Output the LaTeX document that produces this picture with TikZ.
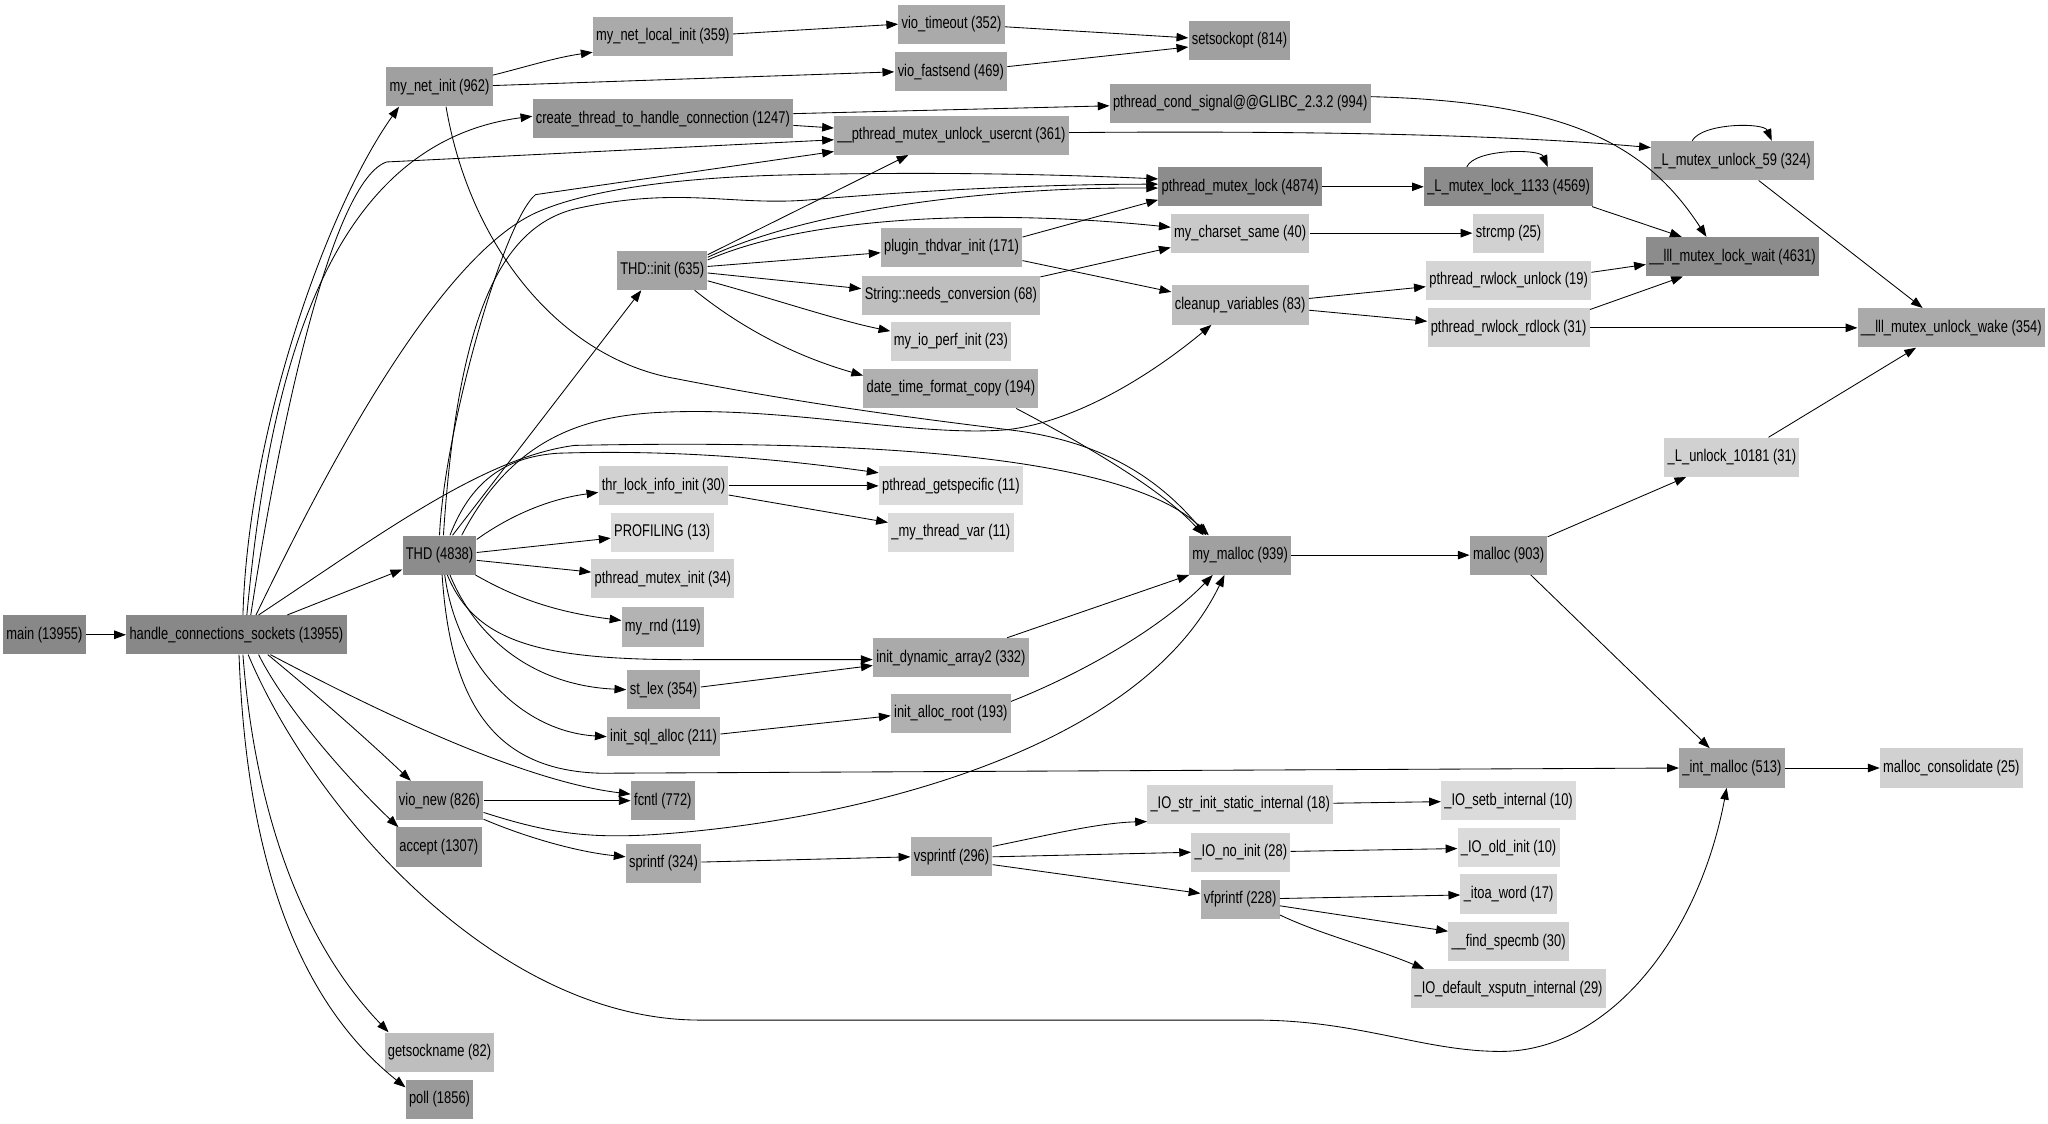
\documentclass[tikz,border=0pt]{standalone}
\usepackage{fontspec}
\setmainfont{Liberation Sans}[FakeStretch=0.76]
\usetikzlibrary{arrows.meta}
\definecolor{k88}{HTML}{888888}
\definecolor{k8c}{HTML}{8C8C8C}
\definecolor{k99}{HTML}{999999}
\definecolor{ka0}{HTML}{A0A0A0}
\definecolor{ka4}{HTML}{A4A4A4}
\definecolor{ka7}{HTML}{A7A7A7}
\definecolor{kaa}{HTML}{AAAAAA}
\definecolor{kb0}{HTML}{B0B0B0}
\definecolor{kb3}{HTML}{B3B3B3}
\definecolor{kbe}{HTML}{BEBEBE}
\definecolor{kc9}{HTML}{C9C9C9}
\definecolor{kd1}{HTML}{D1D1D1}
\definecolor{kd5}{HTML}{D5D5D5}
\definecolor{kdb}{HTML}{DBDBDB}
\tikzset{
  fn/.style={rectangle, fill=#1, draw=none, minimum height=30pt, inner xsep=2.5pt, inner ysep=0pt, font=\fontsize{13}{15}\selectfont, text=black},
  cedge/.style={-{Triangle[length=9pt,width=6.5pt]}, line width=0.65pt, black},
}
\begin{document}
\begin{tikzpicture}[x=1pt,y=-1pt]
\useasboundingbox[fill=white] (0,0) rectangle (1568,860);
% ---- nodes ----
\node[fn=k88] (main) at (34,486) {main (13955)};
\node[fn=k88] (hcs) at (181,486) {handle\_connections\_sockets (13955)};
\node[fn=ka0] (mynetinit) at (336.5,66.5) {my\_net\_init (962)};
\node[fn=kaa] (mynetlocal) at (507.5,28) {my\_net\_local\_init (359)};
\node[fn=kaa] (viotimeout) at (728.5,18.5) {vio\_timeout (352)};
\node[fn=ka7] (viofastsend) at (728,55) {vio\_fastsend (469)};
\node[fn=ka0] (setsockopt) at (949,31) {setsockopt (814)};
\node[fn=k99] (createthread) at (507.5,91) {create\_thread\_to\_handle\_connection (1247)};
\node[fn=ka0] (condsignal) at (949.5,79) {pthread\_cond\_signal@@GLIBC\_2.3.2 (994)};
\node[fn=kaa] (unlock) at (728.5,103.5) {\_\_pthread\_mutex\_unlock\_usercnt (361)};
\node[fn=kaa] (lm59) at (1326.5,123) {\_L\_mutex\_unlock\_59 (324)};
\node[fn=k8c] (lock) at (949.5,143) {pthread\_mutex\_lock (4874)};
\node[fn=k8c] (lml1133) at (1155,143) {\_L\_mutex\_lock\_1133 (4569)};
\node[fn=kc9] (charsetsame) at (949.5,178.5) {my\_charset\_same (40)};
\node[fn=kd1] (strcmp) at (1155,178.5) {strcmp (25)};
\node[fn=ka4] (thdinit) at (507,207) {THD::init (635)};
\node[fn=kb0] (pluginthdvar) at (728.5,189.5) {plugin\_thdvar\_init (171)};
\node[fn=kbe] (needsconv) at (728,226) {String::needs\_conversion (68)};
\node[fn=k8c] (lllwait) at (1326.5,196.5) {\_\_lll\_mutex\_lock\_wait (4631)};
\node[fn=kbe] (cleanupvars) at (949.5,233.5) {cleanup\_variables (83)};
\node[fn=kd5] (rwunlock) at (1155,214.5) {pthread\_rwlock\_unlock (19)};
\node[fn=kd1] (rwrdlock) at (1155,251) {pthread\_rwlock\_rdlock (31)};
\node[fn=kaa] (lllunlockwake) at (1494,251) {\_\_lll\_mutex\_unlock\_wake (354)};
\node[fn=kd1] (myioperf) at (728,261.5) {my\_io\_perf\_init (23)};
\node[fn=kb0] (datetime) at (728,297.5) {date\_time\_format\_copy (194)};
\node[fn=kd1] (lunlock) at (1326,350) {\_L\_unlock\_10181 (31)};
\node[fn=kd1] (thrlockinfo) at (508,372) {thr\_lock\_info\_init (30)};
\node[fn=kdb] (getspecific) at (728,372) {pthread\_getspecific (11)};
\node[fn=kdb] (mythreadvar) at (728,407.5) {\_my\_thread\_var (11)};
\node[fn=kdb] (profiling) at (507,407.5) {PROFILING (13)};
\node[fn=k8c] (thd) at (336.5,425) {THD (4838)};
\node[fn=ka0] (mymalloc) at (949.5,425) {my\_malloc (939)};
\node[fn=ka0] (malloc) at (1155,425) {malloc (903)};
\node[fn=kd1] (mutexinit) at (507.5,443) {pthread\_mutex\_init (34)};
\node[fn=kb3] (myrnd) at (507.5,480) {my\_rnd (119)};
\node[fn=kaa] (initdynarr) at (728,503.5) {init\_dynamic\_array2 (332)};
\node[fn=kaa] (stlex) at (508,528) {st\_lex (354)};
\node[fn=kb0] (initallocroot) at (728,546) {init\_alloc\_root (193)};
\node[fn=kb0] (initsqlalloc) at (508,564) {init\_sql\_alloc (211)};
\node[fn=ka4] (intmalloc) at (1326,588) {\_int\_malloc (513)};
\node[fn=kd1] (mallocconsol) at (1494,588) {malloc\_consolidate (25)};
\node[fn=ka0] (vionew) at (336.5,613) {vio\_new (826)};
\node[fn=ka0] (fcntl) at (507.5,613) {fcntl (772)};
\node[fn=kd5] (iostrinit) at (949.5,616) {\_IO\_str\_init\_static\_internal (18)};
\node[fn=kdb] (iosetb) at (1155,613) {\_IO\_setb\_internal (10)};
\node[fn=k99] (accept) at (336,648.5) {accept (1307)};
\node[fn=kd1] (ionoinit) at (950,652.5) {\_IO\_no\_init (28)};
\node[fn=kdb] (iooldinit) at (1155,649) {\_IO\_old\_init (10)};
\node[fn=kaa] (sprintf) at (508,661) {sprintf (324)};
\node[fn=kb0] (vsprintf) at (728.5,656) {vsprintf (296)};
\node[fn=kb0] (vfprintf) at (949.5,688.5) {vfprintf (228)};
\node[fn=kd5] (itoaword) at (1155,684.5) {\_itoa\_word (17)};
\node[fn=kd1] (findspecmb) at (1155,721) {\_\_find\_specmb (30)};
\node[fn=kd1] (iodefault) at (1155,757) {\_IO\_default\_xsputn\_internal (29)};
\node[fn=kbe] (getsockname) at (336.5,805.5) {getsockname (82)};
\node[fn=k99] (poll) at (336.5,841.5) {poll (1856)};
% ---- edges ----
\draw[cedge] (main) -- (hcs);
% handle_connections_sockets
\draw[cedge] ([xshift=5pt]hcs.north) .. controls (190,330) and (250,160) .. ([xshift=-31pt]mynetinit.south);
\draw[cedge] ([xshift=8pt]hcs.north) .. controls (205,300) and (245,110) .. ([shift={(0,-2)}]createthread.west);
\draw[cedge] ([xshift=11pt]hcs.north) .. controls (215,320) and (255,138) .. (296,124) -- ([shift={(0,3.5)}]unlock.west);
\draw[cedge] ([xshift=15pt]hcs.north) .. controls (240,380) and (330,200) .. (410,163) .. controls (450,145) and (520,136) .. (600,134) .. controls (720,131) and (820,134) .. ([shift={(0,-6)}]lock.west);
\draw[cedge] ([xshift=39pt]hcs.north) -- ([shift={(0,11)}]thd.west);
\draw[cedge] ([xshift=17pt]hcs.north) .. controls (290,410) and (370,350) .. (440,341) .. controls (640,337) and (860,345) .. ([xshift=-24pt]mymalloc.north);
\draw[cedge] ([xshift=24pt]hcs.south) .. controls (240,530) and (280,565) .. ([xshift=-22pt]vionew.north);
\draw[cedge] ([xshift=17pt]hcs.south) .. controls (220,545) and (270,600) .. ([xshift=-31pt]accept.north);
\draw[cedge] ([xshift=26pt]hcs.south) .. controls (290,545) and (400,598) .. ([shift={(0,-5)}]fcntl.west);
\draw[cedge] ([xshift=9pt]hcs.south) .. controls (240,620) and (380,781) .. (536,781) -- (961,781) .. controls (1040,781) and (1090,805) .. (1149,805) .. controls (1230,805) and (1300,720) .. ([xshift=-4pt]intmalloc.south);
\draw[cedge] ([xshift=5pt]hcs.south) .. controls (195,620) and (230,720) .. ([xshift=-39pt]getsockname.north);
\draw[cedge] ([xshift=2pt]hcs.south) .. controls (188,640) and (220,760) .. ([shift={(0,-9)}]poll.west);
% THD
\draw[cedge] ([xshift=10pt]thd.north) -- ([xshift=-16pt]thdinit.south);
\draw[cedge] (thd.north) .. controls (340,330) and (385,170) .. (410,149) -- ([shift={(0,12.5)}]unlock.west);
\draw[cedge] ([xshift=3pt]thd.north) .. controls (350,250) and (380,175) .. (440,160) .. controls (520,142) and (560,158) .. (620,153) .. controls (700,146) and (800,141) .. ([shift={(0,-2)}]lock.west);
\draw[cedge] ([xshift=17pt]thd.north) .. controls (390,340) and (440,320) .. (500,316) .. controls (600,310) and (700,335) .. (771,329) .. controls (830,322) and (890,280) .. ([xshift=-22pt]cleanupvars.south);
\draw[cedge] ([xshift=8pt]thd.north) .. controls (360,370) and (385,350) .. (427,347) .. controls (520,344) and (600,352) .. ([shift={(0,-10)}]getspecific.west);
\draw[cedge] ([shift={(0,-12)}]thd.east) .. controls (390,395) and (420,382) .. ([shift={(0,5)}]thrlockinfo.west);
\draw[cedge] ([shift={(0,-2)}]thd.east) -- ([shift={(0,4.5)}]profiling.west);
\draw[cedge] ([shift={(0,4)}]thd.east) -- ([shift={(0,-5)}]mutexinit.west);
\draw[cedge] ([xshift=-1pt]thd.south east) .. controls (390,455) and (420,468) .. ([shift={(0,-5)}]myrnd.west);
\draw[cedge] ([xshift=6pt]thd.south) .. controls (365,495) and (420,506) .. (540,505) -- ([shift={(0,1.5)}]initdynarr.west);
\draw[cedge] ([xshift=8pt]thd.south) .. controls (365,490) and (410,525) .. (stlex.west);
\draw[cedge] ([xshift=4pt]thd.south) .. controls (350,510) and (400,560) .. (initsqlalloc.west);
\draw[cedge] ([xshift=2pt]thd.south) .. controls (345,540) and (380,590) .. (460,592) -- (intmalloc.west);
% THD::init
\draw[cedge] ([shift={(0,-12)}]thdinit.east) -- ([xshift=-33pt]unlock.south);
\draw[cedge] ([shift={(0,-10)}]thdinit.east) .. controls (620,160) and (760,143) .. ([shift={(0,1)}]lock.west);
\draw[cedge] ([shift={(0,-8)}]thdinit.east) .. controls (620,165) and (760,160) .. ([shift={(0,-4.5)}]charsetsame.west);
\draw[cedge] ([shift={(0,-3)}]thdinit.east) -- ([shift={(0,4)}]pluginthdvar.west);
\draw[cedge] ([shift={(0,2)}]thdinit.east) -- ([shift={(0,-5)}]needsconv.west);
\draw[cedge] ([shift={(0,8)}]thdinit.east) .. controls (590,228) and (640,245) .. ([shift={(0,-8)}]myioperf.west);
\draw[cedge] ([xshift=-10pt]thdinit.south east) .. controls (560,245) and (600,270) .. ([shift={(0,-10)}]datetime.west);
% middle
\draw[cedge] ([shift={(0,-8)}]pluginthdvar.east) -- ([shift={(0,10)}]lock.west);
\draw[cedge] ([shift={(0,10)}]pluginthdvar.east) -- ([shift={(0,-10)}]cleanupvars.west);
\draw[cedge] ([shift={(0,-14)}]needsconv.east) -- ([shift={(0,11)}]charsetsame.west);
\draw[cedge] (charsetsame) -- (strcmp);
\draw[cedge] ([shift={(0,-5)}]cleanupvars.east) -- ([shift={(0,5)}]rwunlock.west);
\draw[cedge] ([shift={(0,4)}]cleanupvars.east) -- ([shift={(0,-5)}]rwrdlock.west);
\draw[cedge] ([shift={(0,-6)}]rwunlock.east) -- ([shift={(0,6)}]lllwait.west);
\draw[cedge] ([shift={(0,-14)}]rwrdlock.east) -- ([xshift=-38pt]lllwait.south);
\draw[cedge] (rwrdlock) -- (lllunlockwake);
\draw[cedge] (lock) -- (lml1133);
\draw[cedge] ([xshift=-32pt]lml1133.north) .. controls +(6,-14) and +(-6,-14) .. ([xshift=30pt]lml1133.north);
\draw[cedge] ([xshift=-1pt]lml1133.south east) -- ([xshift=-39pt]lllwait.north);
\draw[cedge] ([shift={(0,-5)}]condsignal.east) .. controls (1200,78) and (1260,110) .. ([xshift=-20pt]lllwait.north);
\draw[cedge] ([shift={(0,-2)}]unlock.east) .. controls (1000,100) and (1150,103) .. ([shift={(0,-10)}]lm59.west);
\draw[cedge] ([xshift=-31pt]lm59.north) .. controls +(8,-14) and +(-6,-14) .. ([xshift=30pt]lm59.north);
\draw[cedge] ([xshift=20pt]lm59.south) -- ([xshift=-22pt]lllunlockwake.north);
\draw[cedge] ([xshift=28pt]lunlock.north) -- ([xshift=-27pt]lllunlockwake.south);
\draw[cedge] ([shift={(0,-14)}]malloc.east) -- ([xshift=-35pt]lunlock.south);
\draw[cedge] ([xshift=17pt]malloc.south) -- ([xshift=-17pt]intmalloc.north);
\draw[cedge] (mymalloc) -- (malloc);
\draw[cedge] (intmalloc) -- (mallocconsol);
% into my_malloc
\draw[cedge] ([xshift=43pt]initdynarr.north) -- ([xshift=-39pt]mymalloc.south);
\draw[cedge] ([shift={(0,-9)}]initallocroot.east) .. controls (830,515) and (890,480) .. ([xshift=-21pt]mymalloc.south);
\draw[cedge] ([shift={(0,9)}]vionew.east) .. controls (420,638) and (450,642) .. (500,639) .. controls (640,630) and (870,580) .. ([xshift=-12pt]mymalloc.south);
\draw[cedge] ([xshift=50pt]datetime.south) .. controls (830,340) and (890,375) .. ([xshift=-28pt]mymalloc.north);
\draw[cedge] ([xshift=5pt]mynetinit.south) .. controls (360,190) and (430,275) .. (518,290) .. controls (620,310) and (700,320) .. (780,330) .. controls (850,340) and (890,370) .. ([xshift=-26pt]mymalloc.north);
% left-middle
\draw[cedge] (thrlockinfo) -- (getspecific);
\draw[cedge] ([shift={(0,7)}]thrlockinfo.east) -- ([shift={(0,-7.5)}]mythreadvar.west);
\draw[cedge] ([shift={(0,-2)}]stlex.east) -- ([shift={(0,6)}]initdynarr.west);
\draw[cedge] ([shift={(0,-2)}]initsqlalloc.east) -- ([shift={(0,2)}]initallocroot.west);
% top
\draw[cedge] ([shift={(0,-9)}]mynetinit.east) .. controls (400,52) and (425,44) .. ([shift={(0,12)}]mynetlocal.west);
\draw[cedge] ([shift={(0,-1)}]mynetinit.east) -- (viofastsend.west);
\draw[cedge] ([shift={(0,-2)}]mynetlocal.east) -- (viotimeout.west);
\draw[cedge] ([shift={(0,2)}]viotimeout.east) -- ([shift={(0,-2)}]setsockopt.west);
\draw[cedge] ([shift={(0,-4)}]viofastsend.east) -- ([shift={(0,5)}]setsockopt.west);
\draw[cedge] ([shift={(0,-4)}]createthread.east) -- ([shift={(0,2)}]condsignal.west);
\draw[cedge] ([shift={(0,5)}]createthread.east) -- ([shift={(0,-5.5)}]unlock.west);
% bottom
\draw[cedge] (vionew) -- (fcntl);
\draw[cedge] ([shift={(0,-1)}]vionew.south east) .. controls (400,640) and (440,652) .. ([shift={(0,-5)}]sprintf.west);
\draw[cedge] ([shift={(0,-1)}]sprintf.east) -- (vsprintf.west);
\draw[cedge] ([shift={(0,-8)}]vsprintf.east) .. controls (800,640) and (840,630) .. ([shift={(0,13)}]iostrinit.west);
\draw[cedge] (vsprintf.east) -- (ionoinit.west);
\draw[cedge] ([shift={(0,6)}]vsprintf.east) -- ([shift={(0,-4.5)}]vfprintf.west);
\draw[cedge] (iostrinit) -- (iosetb);
\draw[cedge] (ionoinit) -- (iooldinit);
\draw[cedge] (vfprintf) -- (itoaword);
\draw[cedge] ([shift={(0,5)}]vfprintf.east) -- ([shift={(0,-8)}]findspecmb.west);
\draw[cedge] ([shift={(0,12)}]vfprintf.east) .. controls (1010,715) and (1050,725) .. ([xshift=10pt]iodefault.north west);
\end{tikzpicture}
\end{document}
